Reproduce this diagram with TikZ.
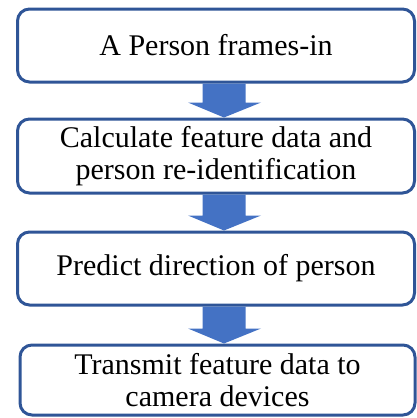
\documentclass[tikz,border=0pt]{standalone}
\usepackage{fontspec}
\setmainfont{Liberation Serif}
\usetikzlibrary{calc}
\definecolor{boxline}{HTML}{2F5597}
\definecolor{arrowfill}{HTML}{4472C4}
\tikzset{
  stepbox/.style={draw=boxline, line width=3pt, rounded corners=12pt, fill=white,
    align=center, inner sep=0pt,
    font=\fontsize{30}{32}\selectfont},
  flowarrow/.style={fill=arrowfill, draw=none}
}
\begin{document}
\begin{tikzpicture}[x=1pt,y=-1pt]
\useasboundingbox (0,0) rectangle (416,418);
\node[stepbox, minimum width=397pt, minimum height=73pt] (b1) at (216,45.5) {A Person frames-in};
\node[stepbox, minimum width=397pt, minimum height=74pt] (b2) at (216,156) {Calculate feature data and\\person re-identification};
\node[stepbox, minimum width=397pt, minimum height=73pt] (b3) at (216,268.5) {Predict direction of person};
\node[stepbox, minimum width=395pt, minimum height=70pt] (b4) at (217.5,380) {Transmit feature data to\\camera devices};
\foreach \a/\b in {b1/b2,b2/b3,b3/b4}{
  \fill[flowarrow] let \p1=(\a.south), \p2=(\b.north) in
    (202.5,\y1) -- (202.5,\y2+15pt) -- (188,\y2+15pt) -- (224,\y2) -- (261,\y2+15pt) -- (245.5,\y2+15pt) -- (245.5,\y1) -- cycle;
}
\end{tikzpicture}
\end{document}
